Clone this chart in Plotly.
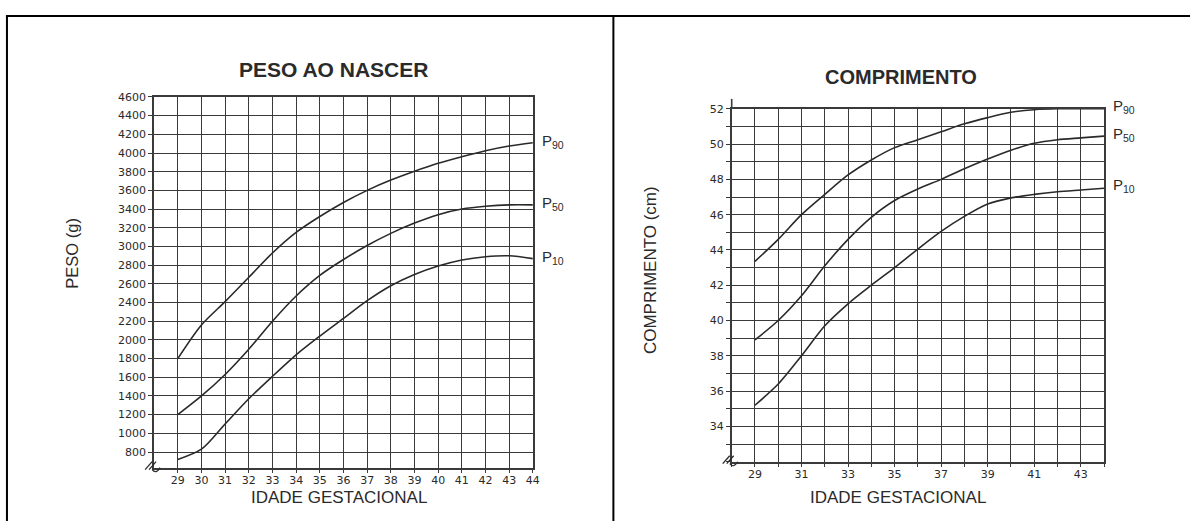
import plotly.graph_objects as go

# ---------------- data ----------------
weeks = list(range(29, 45))

peso_p90 = [1800, 2160, 2410, 2670, 2930, 3150, 3320, 3470, 3600, 3710, 3805, 3890, 3960, 4025, 4075, 4110]
peso_p50 = [1200, 1400, 1630, 1900, 2200, 2470, 2690, 2860, 3010, 3140, 3250, 3340, 3400, 3430, 3445, 3445]
peso_p10 = [720, 830, 1100, 1370, 1610, 1840, 2040, 2230, 2420, 2580, 2700, 2790, 2855, 2890, 2900, 2870]

comp_p90 = [43.35, 44.6, 46.0, 47.15, 48.25, 49.1, 49.8, 50.25, 50.7, 51.15, 51.5, 51.8, 51.95, 52.0, 52.0, 52.0]
comp_p50 = [38.9, 40.0, 41.4, 43.1, 44.6, 45.85, 46.8, 47.45, 48.0, 48.6, 49.15, 49.65, 50.05, 50.25, 50.35, 50.45]
comp_p10 = [35.2, 36.4, 38.0, 39.7, 40.95, 42.0, 43.0, 44.05, 45.05, 45.9, 46.6, 46.95, 47.15, 47.3, 47.4, 47.5]

percentile_names = ["P<sub>90</sub>", "P<sub>50</sub>", "P<sub>10</sub>"]

peso_ticks = list(range(800, 4601, 200))
idade_ticks_left = list(range(29, 45))
comp_ticks = list(range(34, 53, 2))
idade_ticks_right = list(range(29, 44, 2))

# ---------------- layout helpers ----------------
W, H = 1197, 521


def px(x):
    return x / W


def py(y):
    return 1 - y / H


INK = "#2a2a2a"
GRID = "#3a3a3a"
FONT = "DejaVu Sans"

fig = go.Figure()

for vals in (peso_p90, peso_p50, peso_p10):
    fig.add_trace(go.Scatter(x=weeks, y=vals, mode="lines",
                             line=dict(color=INK, width=1.6, shape="spline", smoothing=0.8),
                             xaxis="x", yaxis="y", showlegend=False, hoverinfo="skip"))
for vals in (comp_p90, comp_p50, comp_p10):
    fig.add_trace(go.Scatter(x=weeks, y=vals, mode="lines",
                             line=dict(color=INK, width=1.6, shape="spline", smoothing=0.8),
                             xaxis="x2", yaxis="y2", showlegend=False, hoverinfo="skip"))

axis_common = dict(showline=True, linecolor=GRID, linewidth=1.6, mirror=True,
                   gridcolor=GRID, gridwidth=1.2, ticks="outside", ticklen=4, tickcolor=GRID,
                   tickwidth=1.2, zeroline=False, tickfont=dict(family=FONT, size=11, color=INK))

fig.update_layout(
    width=W, height=H, margin=dict(l=0, r=0, t=0, b=0),
    paper_bgcolor="white", plot_bgcolor="white",
    xaxis=dict(domain=[px(155), px(536)], range=[28, 44], tickvals=idade_ticks_left,
               anchor="y", ticklabelstandoff=-3, **axis_common),
    yaxis=dict(domain=[py(467), py(92)], range=[633, 4600], tickvals=peso_ticks,
               anchor="x", **axis_common),
    xaxis2=dict(domain=[px(736), px(1110.5)], range=[28, 44], tickvals=idade_ticks_right,
                minor=dict(dtick=1, tick0=28, showgrid=True, gridcolor=GRID, gridwidth=1.2,
                           ticks="outside", ticklen=4, tickcolor=GRID),
                anchor="y2", ticklabelstandoff=-3, **axis_common),
    yaxis2=dict(domain=[py(461), py(104)], range=[32, 52], tickvals=comp_ticks,
                minor=dict(dtick=1, tick0=32, showgrid=True, gridcolor=GRID, gridwidth=1.2,
                           ticks="outside", ticklen=4, tickcolor=GRID),
                anchor="x2", **axis_common),
)

annotations = []


def label(text, x, y, size, bold=False, angle=0):
    return dict(text=f"<b>{text}</b>" if bold else text, x=px(x), y=py(y), xref="paper", yref="paper",
                xanchor="center", yanchor="middle", textangle=angle, showarrow=False,
                font=dict(family="Liberation Sans", size=size, color=INK))


annotations.append(label("PESO AO NASCER", 335, 64, 21, bold=True))
annotations.append(label("COMPRIMENTO", 906, 72, 20, bold=True))
annotations.append(label("IDADE GESTACIONAL", 341, 497, 17))
annotations.append(label("IDADE GESTACIONAL", 903, 497, 17))
annotations.append(label("PESO (g)", 73, 250, 16.5, angle=-90))
annotations.append(label("COMPRIMENTO (cm)", 655, 267, 17, angle=-90))

# percentile labels
for name, vals in zip(percentile_names, (peso_p90, peso_p50, peso_p10)):
    annotations.append(dict(text=name, x=44, y=vals[-1], xref="x", yref="y", xanchor="left", yanchor="middle",
                            xshift=7, yshift=1, showarrow=False,
                            font=dict(family="Liberation Sans", size=15, color=INK)))
for name, vals, ys in zip(percentile_names, (comp_p90, comp_p50, comp_p10), (2, 2, 3)):
    annotations.append(dict(text=name, x=44, y=min(vals[-1], 51.99), xref="x2", yref="y2", xanchor="left",
                            yanchor="middle", xshift=7, yshift=ys, showarrow=False,
                            font=dict(family="Liberation Sans", size=15, color=INK)))
fig.update_layout(annotations=annotations)

shapes = []
# table borders
border = dict(color="black", width=2)
shapes.append(dict(type="line", xref="paper", yref="paper", x0=px(6), x1=1, y0=py(10), y1=py(10), line=border))
shapes.append(dict(type="line", xref="paper", yref="paper", x0=px(7), x1=px(7), y0=py(10), y1=0, line=border))
shapes.append(dict(type="line", xref="paper", yref="paper", x0=px(617), x1=px(617), y0=py(10), y1=0, line=border))
# axis extension above 52 on right chart
shapes.append(dict(type="line", xref="paper", yref="paper", x0=px(736), x1=px(736), y0=py(104), y1=py(94),
                   line=dict(color=GRID, width=1.6)))
# axis break marks
for (bx, by) in ((155, 465), (736, 459)):
    for dx in (-6, -2):
        shapes.append(dict(type="line", xref="paper", yref="paper",
                           x0=px(bx + dx - 3), y0=py(by + 4), x1=px(bx + dx + 4), y1=py(by - 4),
                           line=dict(color=INK, width=1.3)))
    shapes.append(dict(type="path", xref="paper", yref="paper",
                       path=f"M {px(bx-2)} {py(by+4)} Q {px(bx+2)} {py(by+9)} {px(bx+6)} {py(by+2)}",
                       line=dict(color=INK, width=1.2)))
fig.update_layout(shapes=shapes)

pin = ("document.body.style.margin='0';document.body.style.overflow='hidden';"
       "var gd=document.getElementById('{plot_id}');gd.style.position='fixed';"
       "gd.style.top='0px';gd.style.left='0px';")
fig.write_html("out.html", config={"displayModeBar": False}, post_script=pin)
